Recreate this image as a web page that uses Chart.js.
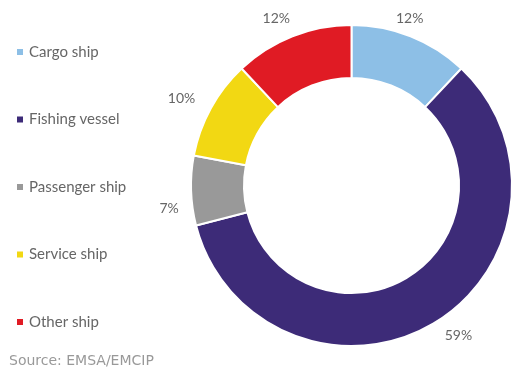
<!DOCTYPE html>
<html>
<head>
<meta charset="utf-8">
<script src="https://cdn.jsdelivr.net/npm/chart.js@4/dist/chart.umd.min.js"></script>
<style>
  html, body { margin: 0; padding: 0; background: #fff; }
  #wrap { position: relative; width: 514px; height: 369px; }
</style>
</head>
<body>
<div id="wrap"><canvas id="chart" width="514" height="369"></canvas></div>
<script>
// Data
const categories = ['Cargo ship', 'Fishing vessel', 'Passenger ship', 'Service ship', 'Other ship'];
const shares = [12, 59, 7, 10, 12];
const colors = ['#8DBFE6', '#3D2B78', '#999999', '#F2D813', '#E01B24'];
const sourceText = 'Source: EMSA/EMCIP';

const FONT = 'Lato, "Open Sans", sans-serif';
// small nudges so labels sit where the original placed them
const labelNudge = [[-9, 3], [14, -7], [0, 17], [-10, 1], [-8, 3]];

// Draws the legend column, percent labels and source line
const extrasPlugin = {
  id: 'extras',
  afterDraw(chart) {
    const ctx = chart.ctx;
    const meta = chart.getDatasetMeta(0);
    ctx.save();

    // percent labels outside each slice
    ctx.font = '14px ' + FONT;
    ctx.fillStyle = '#666666';
    ctx.textAlign = 'center';
    ctx.textBaseline = 'middle';
    meta.data.forEach((arc, i) => {
      const p = arc.getProps(['x', 'y', 'startAngle', 'endAngle', 'outerRadius'], true);
      const mid = (p.startAngle + p.endAngle) / 2;
      const r = p.outerRadius + 22;
      ctx.fillText(shares[i] + '%',
        p.x + Math.cos(mid) * r + labelNudge[i][0],
        p.y + Math.sin(mid) * r + labelNudge[i][1]);
    });

    // legend
    ctx.font = '15px ' + FONT;
    ctx.textAlign = 'left';
    categories.forEach((name, i) => {
      const y = 52 + i * 67.5;
      ctx.fillStyle = colors[i];
      ctx.fillRect(17, y - 3, 6, 6);
      ctx.fillStyle = '#666666';
      ctx.fillText(name, 29, y);
    });

    // source
    ctx.font = '14px "DejaVu Sans", sans-serif';
    ctx.fillStyle = '#999999';
    ctx.fillText(sourceText, 9, 361);
    ctx.restore();
  }
};

new Chart(document.getElementById('chart'), {
  type: 'doughnut',
  data: {
    labels: categories,
    datasets: [{
      data: shares,
      backgroundColor: colors,
      borderColor: '#ffffff',
      borderWidth: 2,
      hoverOffset: 0
    }]
  },
  options: {
    responsive: false,
    animation: false,
    cutout: '67%',
    layout: { padding: { left: 190, right: 1, top: 24, bottom: 22 } },
    plugins: {
      legend: { display: false },
      tooltip: { enabled: false }
    }
  },
  plugins: [extrasPlugin]
});
</script>
</body>
</html>
